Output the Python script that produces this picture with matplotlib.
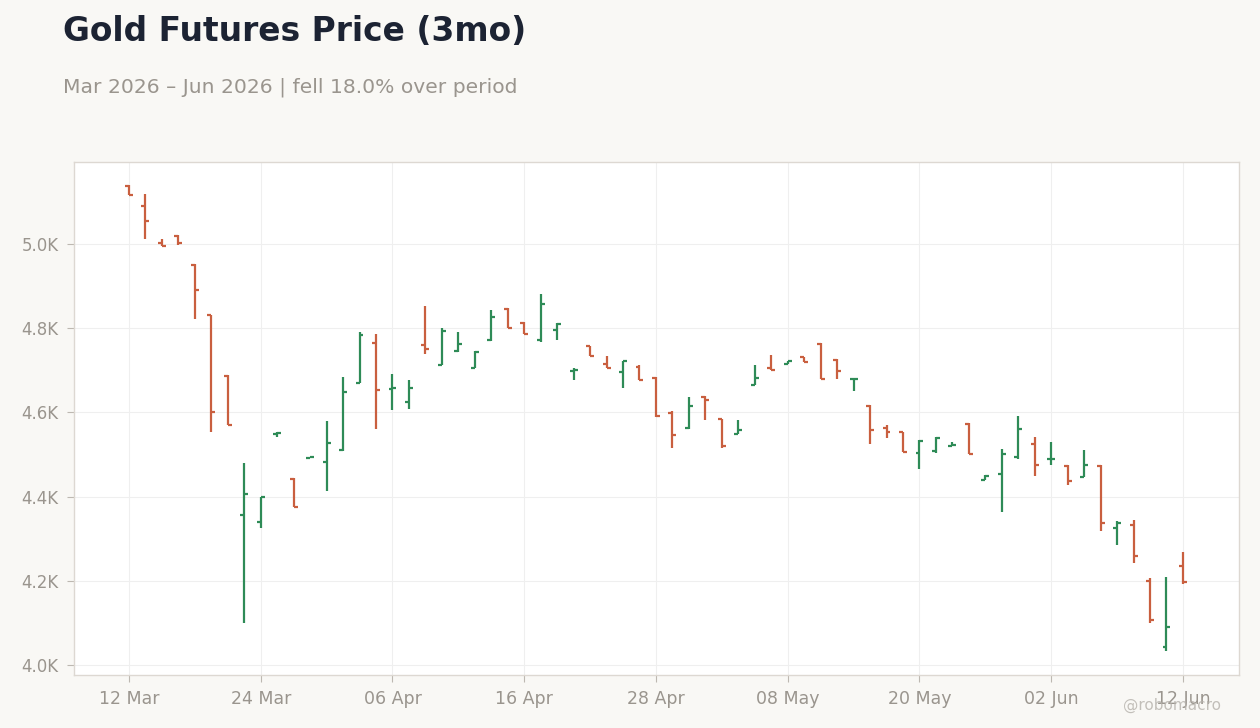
import pandas as pd
import matplotlib
matplotlib.use("Agg")
import matplotlib.pyplot as plt
from matplotlib.ticker import FuncFormatter

# Daily OHLC values (trading days 12 Mar - 12 Jun 2026)
opens = [5138, 5091, 5003, 5020, 4951, 4831, 4687, 4355, 4340, 4549,
         4442, 4492, 4483, 4511, 4671, 4766, 4656, 4625, 4761, 4713,
         4747, 4706, 4772, 4846, 4813, 4772, 4796, 4698, 4757, 4714,
         4697, 4709, 4682, 4599, 4564, 4637, 4584, 4549, 4665, 4706,
         4716, 4731, 4763, 4725, 4679, 4616, 4564, 4553, 4504, 4509,
         4521, 4573, 4440, 4454, 4494, 4526, 4489, 4473, 4447, 4473,
         4326, 4333, 4200, 4043, 4236]
highs = [5140, 5119, 5012, 5021, 4952, 4832, 4688, 4479, 4400, 4553,
         4443, 4494, 4580, 4684, 4790, 4786, 4691, 4677, 4853, 4800,
         4791, 4746, 4843, 4848, 4814, 4881, 4812, 4705, 4758, 4734,
         4723, 4712, 4683, 4603, 4637, 4638, 4585, 4582, 4713, 4736,
         4723, 4732, 4764, 4726, 4681, 4617, 4570, 4554, 4534, 4541,
         4529, 4574, 4451, 4513, 4591, 4542, 4530, 4475, 4511, 4475,
         4342, 4344, 4207, 4209, 4268]
lows = [5116, 5011, 4995, 4997, 4823, 4554, 4569, 4100, 4326, 4542,
        4375, 4491, 4414, 4509, 4669, 4561, 4606, 4609, 4739, 4712,
        4744, 4705, 4770, 4800, 4786, 4768, 4772, 4677, 4733, 4705,
        4659, 4676, 4590, 4516, 4561, 4583, 4515, 4549, 4665, 4700,
        4715, 4719, 4679, 4680, 4652, 4526, 4540, 4505, 4466, 4504,
        4520, 4501, 4439, 4364, 4490, 4450, 4476, 4428, 4447, 4319,
        4286, 4241, 4100, 4032, 4193]
closes = [5117, 5055, 4996, 5003, 4891, 4601, 4570, 4405, 4399, 4552,
          4375, 4493, 4528, 4649, 4784, 4653, 4659, 4659, 4751, 4794,
          4763, 4744, 4827, 4800, 4787, 4858, 4809, 4700, 4734, 4706,
          4721, 4677, 4591, 4547, 4615, 4629, 4520, 4557, 4682, 4701,
          4723, 4720, 4680, 4699, 4680, 4557, 4554, 4506, 4533, 4540,
          4523, 4502, 4449, 4500, 4561, 4476, 4490, 4438, 4475, 4338,
          4336, 4259, 4107, 4091, 4197]

dates = pd.bdate_range("2026-03-12", "2026-06-12", freq="C",
                       holidays=["2026-04-03", "2026-05-25"])

df = pd.DataFrame({"date": dates, "open": opens, "high": highs,
                   "low": lows, "close": closes})

up_color = "#2e8b57"
down_color = "#c95f3f"
text_gray = "#9a958e"

fig = plt.figure(figsize=(12.6, 7.28), dpi=100, facecolor="#f9f8f5")
ax = fig.add_axes([0.0587, 0.0728, 0.9246, 0.7047])
ax.set_facecolor("white")

x = list(range(len(df)))
colors = [up_color if c >= o else down_color for o, c in zip(df["open"], df["close"])]
w = 0.24
ax.vlines(x, df["low"], df["high"], colors=colors, linewidth=1.6, zorder=3)
ax.hlines(df["open"], [i - w for i in x], x, colors=colors, linewidth=1.6, zorder=3)
ax.hlines(df["close"], x, [i + w for i in x], colors=colors, linewidth=1.6, zorder=3)

ax.set_xlim(-3.34, 67.4)
ax.set_ylim(3976, 5195)

tick_idx = list(range(0, len(df), 8))
ax.set_xticks(tick_idx)
ax.set_xticklabels([df["date"][i].strftime("%d %b") for i in tick_idx])
ax.set_yticks(range(4000, 5001, 200))
ax.yaxis.set_major_formatter(FuncFormatter(lambda v, p: f"{v / 1000:.1f}K"))

ax.grid(True, color="#efefef", linewidth=0.8, zorder=0)
ax.set_axisbelow(True)
for s in ax.spines.values():
    s.set_color("#ddd8d2")
    s.set_linewidth(1.0)
ax.tick_params(colors=text_gray, labelsize=12, length=5, width=0.8, pad=6)
ax.tick_params(axis="x", colors="#bdb8b1", labelcolor=text_gray, labelsize=12.5)
ax.tick_params(axis="y", colors="#bdb8b1", labelcolor=text_gray)

fig.text(0.05, 0.98, "Gold Futures Price (3mo)", fontsize=23.7, fontweight="bold",
         color="#1c2333", va="top", ha="left")
fig.text(0.05, 0.894, "Mar 2026 \u2013 Jun 2026 | fell 18.0% over period", fontsize=14.6,
         color=text_gray, va="top", ha="left")
fig.text(0.969, 0.031, "@robomacro", fontsize=11, color="#b5b1ab", alpha=0.8,
         ha="right", va="center")

fig.savefig("out.png", dpi=100, facecolor=fig.get_facecolor())
plt.close()
